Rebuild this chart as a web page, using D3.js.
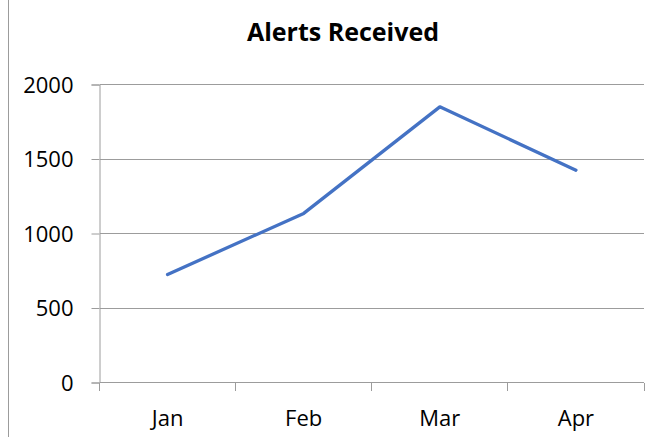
<!DOCTYPE html>
<html>
<head>
<meta charset="utf-8">
<script src="https://cdn.jsdelivr.net/npm/d3@7"></script>
<style>
  body { margin: 0; background: #fff; }
  text { font-family: "Open Sans", sans-serif; fill: #000; }
</style>
</head>
<body>
<div id="chart"></div>
<script>
const svgWidth = 667;
const svgHeight = 439;

// data
const months = ["Jan", "Feb", "Mar", "Apr"];
const alerts = [725, 1135, 1850, 1425];
const yTicks = [0, 500, 1000, 1500, 2000];

const margin = { top: 84.5, right: 23, bottom: 56.5, left: 99.5 };
const width = svgWidth - margin.left - margin.right;
const height = svgHeight - margin.top - margin.bottom;

const gridColor = "#9c9c9c";

const svg = d3.select("#chart")
  .append("svg")
  .attr("width", svgWidth)
  .attr("height", svgHeight);

// partial chart border on the left
svg.append("line")
  .attr("x1", 8.5).attr("x2", 8.5)
  .attr("y1", 0).attr("y2", 437)
  .attr("stroke", gridColor)
  .attr("stroke-width", 1);

// title
svg.append("text")
  .attr("x", 343)
  .attr("y", 41)
  .attr("text-anchor", "middle")
  .style("font-size", "25px")
  .style("font-weight", "bold")
  .text("Alerts Received");

const chartGroup = svg.append("g")
  .attr("transform", `translate(${margin.left}, ${margin.top})`);

const xScale = d3.scaleBand()
  .domain(months)
  .range([0, width])
  .padding(0);

const yScale = d3.scaleLinear()
  .domain([0, 2000])
  .range([height, 0]);

// gridlines
chartGroup.append("g")
  .selectAll("line")
  .data(yTicks.filter(d => d > 0))
  .join("line")
  .attr("x1", 0)
  .attr("x2", width)
  .attr("y1", d => yScale(d))
  .attr("y2", d => yScale(d))
  .attr("stroke", gridColor)
  .attr("stroke-width", 1)
  .attr("shape-rendering", "crispEdges");

// y axis
const leftAxis = d3.axisLeft(yScale)
  .tickValues(yTicks)
  .tickSize(8)
  .tickPadding(18)
  .tickFormat(d3.format("d"));

const yAxis = chartGroup.append("g").call(leftAxis);
yAxis.select(".domain").attr("stroke", gridColor);
yAxis.selectAll(".tick line").attr("stroke", gridColor);
yAxis.selectAll(".tick text")
  .style("font-size", "22px")
  .attr("fill", "#000")
  .attr("dy", "0.36em");

// x axis, ticks on category boundaries
const xAxis = chartGroup.append("g")
  .attr("transform", `translate(0, ${height})`);

xAxis.append("line")
  .attr("x1", 0).attr("x2", width)
  .attr("y1", 0).attr("y2", 0)
  .attr("stroke", gridColor)
  .attr("shape-rendering", "crispEdges");

const bounds = months.map(m => xScale(m)).concat([width]);
xAxis.selectAll(".xtick")
  .data(bounds)
  .join("line")
  .attr("class", "xtick")
  .attr("x1", d => Math.round(d))
  .attr("x2", d => Math.round(d))
  .attr("y1", 0).attr("y2", 8)
  .attr("stroke", gridColor)
  .attr("shape-rendering", "crispEdges");

xAxis.selectAll(".xlabel")
  .data(months)
  .join("text")
  .attr("class", "xlabel")
  .attr("x", d => xScale(d) + xScale.bandwidth() / 2)
  .attr("y", 43)
  .attr("text-anchor", "middle")
  .style("font-size", "22px")
  .text(d => d);

// the line
const line = d3.line()
  .x((d, i) => xScale(months[i]) + xScale.bandwidth() / 2)
  .y(d => yScale(d));

chartGroup.append("path")
  .datum(alerts)
  .attr("d", line)
  .attr("fill", "none")
  .attr("stroke", "#4472c4")
  .attr("stroke-width", 3.3)
  .attr("stroke-linecap", "round")
  .attr("stroke-linejoin", "round");
</script>
</body>
</html>
